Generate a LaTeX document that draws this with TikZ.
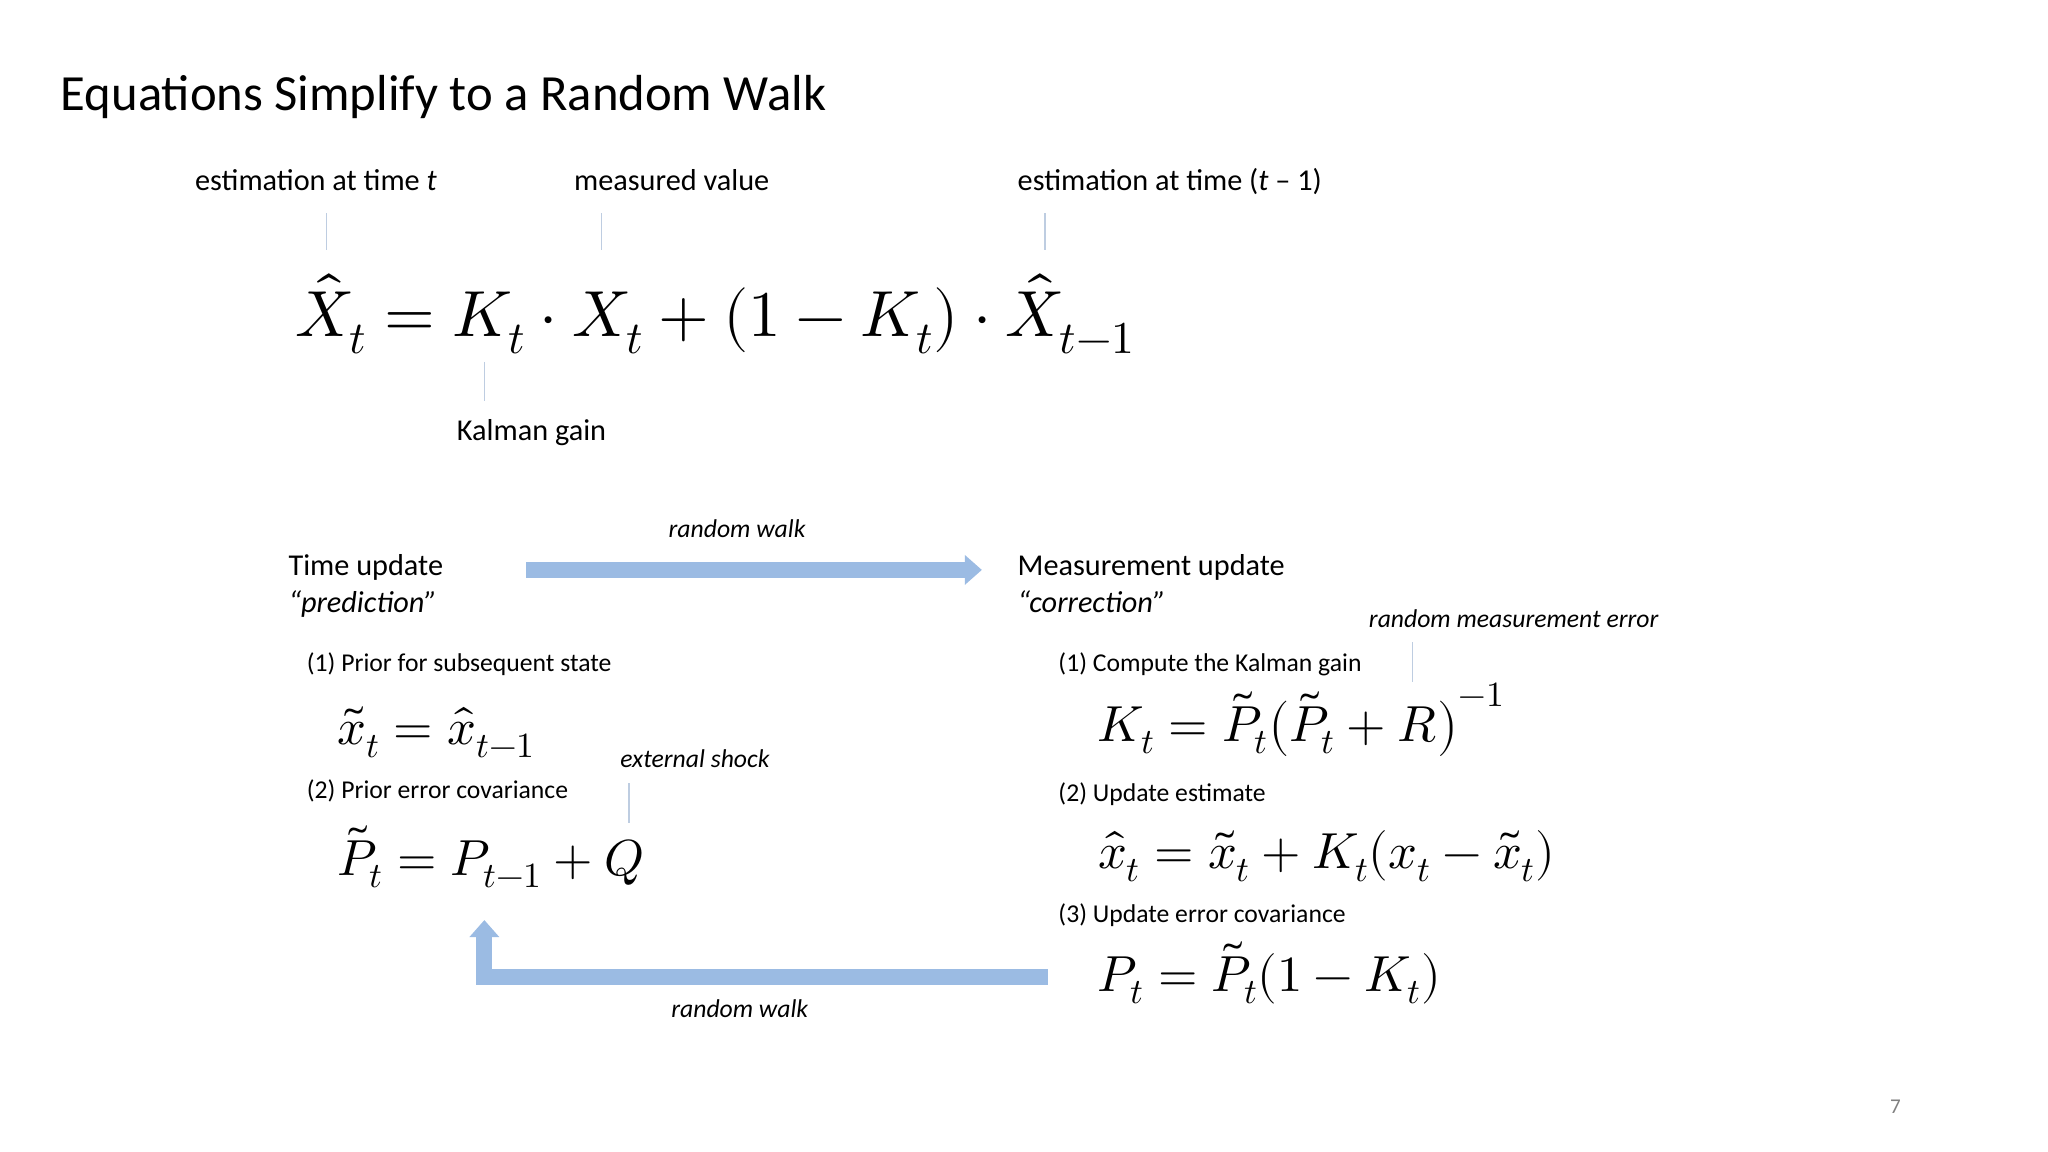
\documentclass[tikz,border=0pt]{standalone}
\usepackage{amsmath}
\usepackage{unicode-math}
\setmainfont{Carlito}
\setmathfont{Latin Modern Math}
\usetikzlibrary{arrows.meta}
\definecolor{arr}{RGB}{155,187,227}
\definecolor{tick}{RGB}{190,205,225}
\tikzset{
  lbl/.style={anchor=base west,inner sep=0pt,font=\fontsize{23}{27}\selectfont},
  sml/.style={anchor=base west,inner sep=0pt,font=\fontsize{19.5}{23}\selectfont},
  ital/.style={anchor=base,inner sep=0pt,font=\fontsize{19.5}{23}\selectfont\itshape},
  eqn/.style={anchor=base west,inner sep=0pt,font=\fontsize{38.5}{44}\selectfont},
  tk/.style={draw=tick,line width=1pt},
  fat/.style={draw=arr,line width=12pt}
}
\begin{document}
\begin{tikzpicture}[x=1pt,y=-1pt]
\useasboundingbox (0,0) rectangle (1556,875);
\node[anchor=base west,inner sep=0pt,font=\fontsize{38.5}{44}\selectfont] (title) at (46,84) {Equations Simplify to a Random Walk};
\node[lbl] (l1) at (148,145) {estimation at time \textit{t}};
\node[lbl] (l2) at (436,145) {measured value};
\node[lbl] (l3) at (773,145) {estimation at time (\textit{t} – 1)};
\coordinate (a1) at (248,162); \coordinate (b1) at (248,190);
\coordinate (a2) at (457,162); \coordinate (b2) at (457,190);
\coordinate (a3) at (794,162); \coordinate (b3) at (794,190);
\draw[tk] (a1)--(b1); \draw[tk] (a2)--(b2); \draw[tk] (a3)--(b3);
\node[anchor=base west,inner sep=0pt,font=\fontsize{49.5}{56}\selectfont] (main) at (224,256)
 {$\hat{X}_t = K_t\cdot X_t + (1-K_t)\cdot \hat{X}_{t-1}$};
\coordinate (a4) at (368,275); \coordinate (b4) at (368,305);
\draw[tk] (a4)--(b4);
\node[lbl] (kg) at (347,335) {Kalman gain};
% headings
\node[lbl] (tu) at (219,437) {Time update};
\node[lbl,font=\fontsize{23}{27}\selectfont\itshape] (pr) at (219,465) {“prediction”};
\node[lbl] (mu) at (773,437) {Measurement update};
\node[lbl,font=\fontsize{23}{27}\selectfont\itshape] (co) at (773,465) {“correction”};
\coordinate (r1s) at (400,433); \coordinate (r1e) at (746,433);
\draw[fat,-{Triangle[length=13pt,width=22pt]}] (r1s)--(r1e);
\node[ital] (rw1) at (560,408) {random walk};
% left
\node[sml] (p1) at (233,510) {(1) Prior for subsequent state};
\node[eqn] (e1) at (256,566) {$\tilde{x}_t = \hat{x}_{t-1}$};
\node[ital] (es) at (528,583) {external shock};
\coordinate (a5) at (478,595); \coordinate (b5) at (478,625);
\draw[tk] (a5)--(b5);
\node[sml] (p2) at (233,607) {(2) Prior error covariance};
\node[eqn] (e2) at (256,665) {$\tilde{P}_t = P_{t-1} + Q$};
% right
\node[ital] (rme) at (1150,477) {random measurement error};
\coordinate (a6) at (1073,488); \coordinate (b6) at (1073,518);
\draw[tk] (a6)--(b6);
\node[sml] (q1) at (804,510) {(1) Compute the Kalman gain};
\node[eqn] (f1) at (834,563) {$K_t = \tilde{P}_t\bigl(\tilde{P}_t + R\bigr)^{-1}$};
\node[sml] (q2) at (804,609) {(2) Update estimate};
\node[eqn] (f2) at (834,660) {$\hat{x}_t = \tilde{x}_t + K_t(x_t - \tilde{x}_t)$};
\node[sml] (q3) at (804,701) {(3) Update error covariance};
\node[eqn] (f3) at (834,753) {$P_t = \tilde{P}_t(1 - K_t)$};
% bottom arrow
\coordinate (r2s) at (796,742); \coordinate (r2c) at (368,742); \coordinate (r2e) at (368,699);
\draw[fat,-{Triangle[length=13pt,width=22pt]}] (r2s)--(r2c)--(r2e);
\node[ital] (rw2) at (562,773) {random walk};
\node[anchor=base,inner sep=0pt,text=gray,font=\fontsize{16}{20}\selectfont] (pg) at (1440,846) {7};
\end{tikzpicture}
\end{document}
